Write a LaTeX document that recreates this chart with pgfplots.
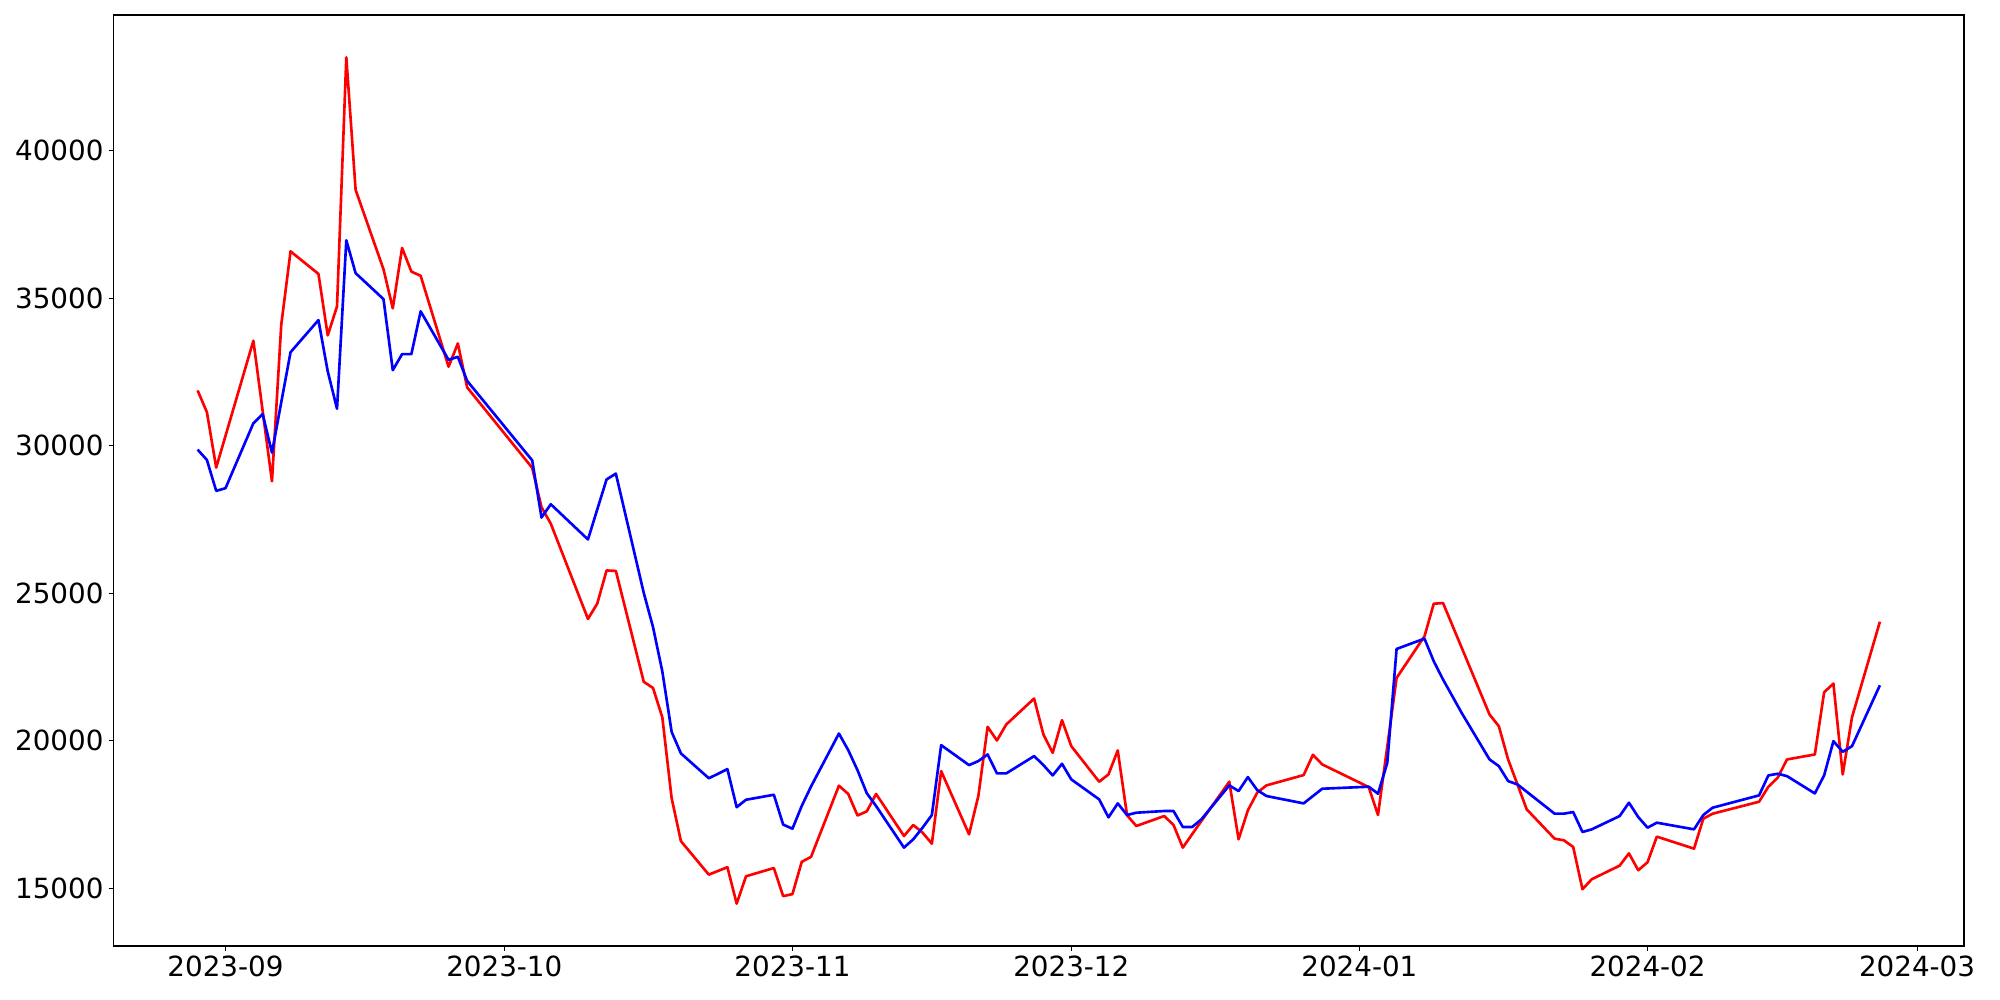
\documentclass[border=0pt]{standalone}
\usepackage{fontspec}
\setmainfont{DejaVu Sans}
\usepackage{pgfplots}
\pgfplotsset{compat=1.18}
\pgfplotstableread{
d v
-3 31878
-2 31140
-1 29262
0 30337
3 33562
4 31179
5 28796
6 34106
7 36593
10 35829
11 33744
12 34728
13 43173
14 38679
17 35985
18 34663
19 36710
20 35907
21 35764
24 32682
25 33472
26 31982
33 29253
34 27920
35 27359
39 24131
40 24651
41 25773
42 25759
45 21998
46 21788
47 20792
48 18055
49 16596
52 15460
53 15586
54 15712
55 14477
56 15404
59 15684
60 14730
61 14800
62 15894
63 16063
66 18476
67 18196
68 17466
69 17606
70 18196
73 16771
74 17143
75 16884
76 16511
77 18971
80 16827
81 18125
82 20471
83 20009
84 20550
87 21431
88 20212
89 19591
90 20697
91 19817
94 18610
95 18858
96 19671
97 17470
98 17109
101 17448
102 17143
103 16376
104 16830
105 17280
108 18610
109 16659
110 17640
111 18238
112 18486
116 18836
117 19524
118 19197
123 18429
124 17481
125 19806
126 22130
129 23541
130 24646
131 24669
136 20889
137 20494
138 19366
139 18520
140 17673
143 16680
144 16624
145 16398
146 14966
147 15304
150 15766
151 16180
152 15609
153 15880
154 16748
158 16342
159 17357
160 17526
165 17932
166 18440
167 18745
168 19365
171 19535
172 21644
173 21938
174 18857
175 20798
178 24036
}\redtab
\pgfplotstableread{
d v
-3 29871
-2 29521
-1 28472
0 28563
3 30765
4 31075
5 29767
6 31477
7 33174
10 34262
11 32526
12 31257
13 36969
14 35855
17 34974
18 32565
19 33109
20 33109
21 34560
24 32915
25 33018
26 32202
33 29506
34 27569
35 28018
39 26825
40 27843
41 28860
42 29057
45 25015
46 23851
47 22349
48 20301
49 19571
52 18729
53 18880
54 19038
55 17747
56 17999
59 18168
60 17157
61 17017
62 17789
63 18449
66 20244
67 19683
68 19000
69 18220
70 17786
73 16376
74 16659
75 17053
76 17481
77 19851
80 19174
81 19310
82 19535
83 18892
84 18892
87 19479
88 19174
89 18824
90 19219
91 18689
94 18012
95 17403
96 17876
97 17481
98 17560
101 17617
102 17617
103 17075
104 17075
105 17335
108 18486
109 18294
110 18768
111 18328
112 18125
116 17876
117 18125
118 18373
123 18441
124 18204
125 19253
126 23112
129 23462
130 22694
131 22074
132 21510
133 20945
136 19366
137 19140
138 18632
139 18520
143 17527
144 17527
145 17583
146 16906
147 16996
150 17447
151 17899
152 17413
153 17052
154 17221
158 16996
159 17481
160 17729
165 18147
166 18824
167 18880
168 18801
171 18214
172 18824
173 19986
174 19625
175 19816
178 21881
}\bluetab
\begin{document}
\begin{tikzpicture}
\begin{axis}[
  scale only axis, width=1332.4pt, height=670.3pt,
  xmin=-12.05, xmax=187.05, ymin=13042, ymax=44608,
  scaled x ticks=false, scaled y ticks=false,
  xtick={0,30,61,91,122,153,182},
  xticklabels={2023-09,2023-10,2023-11,2023-12,2024-01,2024-02,2024-03},
  ytick={15000,20000,25000,30000,35000,40000},
  yticklabels={15000,20000,25000,30000,35000,40000},
  tick align=outside, tick pos=left,
  major tick length=3.5pt,
  tick style={black, line width=0.8pt},
  axis line style={black, line width=0.8pt},
  tick label style={font=\fontsize{20}{24}\selectfont, inner sep=0pt},
  xticklabel style={anchor=north, yshift=-3.5pt},
  yticklabel style={anchor=east, xshift=-3.5pt},
  /pgf/number format/assume math mode=true,
]
\addplot[red, line width=1.9pt, line join=round] table[x=d, y=v] {\redtab};
\addplot[blue, line width=1.9pt, line join=round] table[x=d, y=v] {\bluetab};
\end{axis}
\pgfresetboundingbox
\path[use as bounding box] ([shift={(-81.72pt,-38.5pt)}]current axis.south west) rectangle ([shift={(25.92pt,10.8pt)}]current axis.north east);
\end{tikzpicture}
\end{document}
